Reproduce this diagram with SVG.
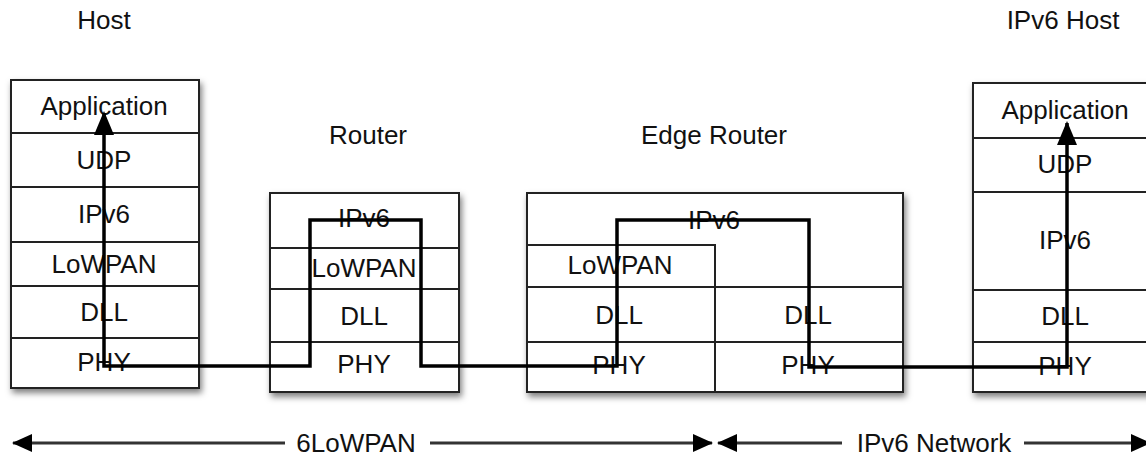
<svg xmlns="http://www.w3.org/2000/svg" width="1146" height="456" viewBox="0 0 1146 456">
<defs>
<filter id="sh" x="-10%" y="-10%" width="125%" height="125%">
<feDropShadow dx="2" dy="4" stdDeviation="3" flood-color="#000" flood-opacity="0.5"/>
</filter>
<marker id="ah" markerUnits="userSpaceOnUse" markerWidth="24" markerHeight="24" viewBox="0 0 24 24" refX="22" refY="12" orient="auto-start-reverse">
<path d="M0,2 L24,12 L0,22 Z" fill="#000"/>
</marker>
<marker id="ab" markerUnits="userSpaceOnUse" markerWidth="20" markerHeight="20" viewBox="0 0 20 20" refX="19" refY="10" orient="auto-start-reverse">
<path d="M0,1 L20,10 L0,19 Z" fill="#000"/>
</marker>
</defs>
<style>
text{font-family:"Liberation Sans",Arial,sans-serif;font-size:26px;fill:#111;text-anchor:middle}
.box{fill:#fff;stroke:#222;stroke-width:2;filter:url(#sh)}
.ln{stroke:#222;stroke-width:2;fill:none}
.path{stroke:#000;stroke-width:3.5;fill:none;stroke-linejoin:miter}
.bl{stroke:#333;stroke-width:3;fill:none}
</style>

<g id="host">
<rect class="box" x="11" y="80" width="188" height="308"/>
<path class="ln" d="M11,133H199M11,187H199M11,242H199M11,286H199M11,338H199"/>
<text x="104" y="29">Host</text>
<text x="104" y="115">Application</text>
<text x="104" y="169">UDP</text>
<text x="104" y="223">IPv6</text>
<text x="104" y="273">LoWPAN</text>
<text x="104" y="321">DLL</text>
<text x="104" y="371">PHY</text>
</g>

<g id="router">
<rect class="box" x="270" y="193" width="189" height="199"/>
<path class="ln" d="M270,248H459M270,289H459M270,342H459"/>
<text x="368" y="144">Router</text>
<text x="364" y="227">IPv6</text>
<text x="364" y="277">LoWPAN</text>
<text x="364" y="325">DLL</text>
<text x="364" y="373">PHY</text>
</g>

<g id="edge-router">
<rect class="box" x="527" y="193" width="376" height="199"/>
<path class="ln" d="M527,245H715V392M527,287H903M527,342H903"/>
<text x="714" y="144">Edge Router</text>
<text x="714" y="229">IPv6</text>
<text x="620" y="274">LoWPAN</text>
<text x="619" y="324">DLL</text>
<text x="808" y="324">DLL</text>
<text x="619" y="374">PHY</text>
<text x="808" y="374">PHY</text>
</g>

<g id="ipv6-host">
<rect class="box" x="973" y="83" width="186" height="309"/>
<path class="ln" d="M973,138H1160M973,192H1160M973,290H1160M973,342H1160"/>
<text x="1063" y="29">IPv6 Host</text>
<text x="1065" y="119">Application</text>
<text x="1065" y="173">UDP</text>
<text x="1065" y="249">IPv6</text>
<text x="1065" y="325">DLL</text>
<text x="1065" y="375">PHY</text>
</g>

<g id="connectors">
<path class="path" marker-start="url(#ah)" marker-end="url(#ah)" d="M104,113 V366 H310 V220 H421 V366 H617 V220 H809 V367 H1067 V123"/>
<path class="bl" marker-start="url(#ab)" d="M13,443 H285"/>
<path class="bl" marker-end="url(#ab)" d="M430,443 H712"/>
<path class="bl" marker-start="url(#ab)" d="M718,443 H842"/>
<path class="bl" marker-end="url(#ab)" d="M1024,443 H1150"/>
<text x="356" y="452">6LoWPAN</text>
<text x="934" y="452">IPv6 Network</text>
</g>
</svg>
